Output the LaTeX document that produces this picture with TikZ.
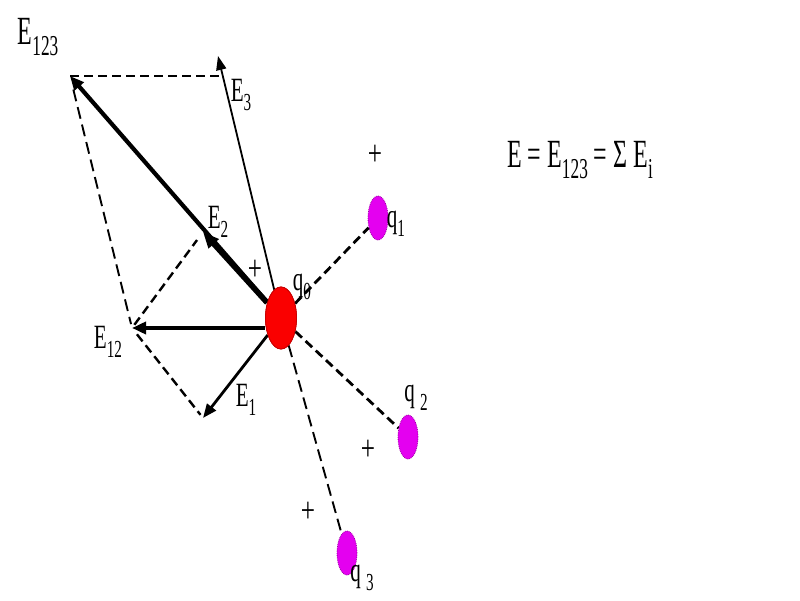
\documentclass[tikz,border=0pt]{standalone}
\usepackage{graphicx}
\usepackage{fontspec}
\setmainfont{Liberation Serif}
\usetikzlibrary{arrows.meta,shapes.geometric}
\newcommand{\sbx}[1]{\raisebox{-0.26em}{\scalebox{0.72}{#1}}}
\definecolor{qmag}{RGB}{228,0,240}
\definecolor{qred}{RGB}{250,0,0}
\begin{document}
\begin{tikzpicture}[x=1pt,y=1pt,
  lab/.style={font=\fontsize{34}{34}\selectfont, inner sep=0pt, transform shape, xscale=0.62},
  biglab/.style={font=\fontsize{40}{40}\selectfont, inner sep=0pt, transform shape, xscale=0.6},
  plus/.style={font=\fontsize{36}{36}\selectfont, inner sep=0pt, transform shape, xscale=0.7},
  charge/.style={ellipse, fill=qmag, draw=qmag!70!black, densely dotted, line width=0.8pt, minimum width=20pt, minimum height=44pt, inner sep=0pt},
  test/.style={ellipse, fill=qred, draw=qred!80!black, line width=0.8pt, minimum width=31pt, minimum height=62pt, inner sep=0pt},
  vec/.style={line width=4.2pt, -{Triangle[length=14pt,width=12pt]}},
  thinvec/.style={line width=1.8pt, -{Triangle[length=14pt,width=10pt]}},
  guide/.style={line width=2.4pt, dash pattern=on 9pt off 5pt},
  guidethin/.style={line width=1.9pt, dash pattern=on 12pt off 6pt},
  link/.style={line width=2.8pt, dash pattern=on 9pt off 5pt}
]
\useasboundingbox (0,0) rectangle (800,600);
\fill[white] (0,0) rectangle (800,600);

% charges
\node[charge] (q1) at (378,382) {};
\node[charge] (q2) at (408,163) {};
\node[charge] (q3) at (347,47) {};

% vector tips
\coordinate (e123) at (70,524);
\coordinate (e3) at (218,544);
\coordinate (e3b) at (222,524);
\coordinate (e2) at (203,368);
\coordinate (e12) at (132,272);
\coordinate (e1) at (203,182);

% test charge (placed to get border anchors)
\node[test] (q0) at (281,282) {};

% links to charges
\draw[link] (q0) -- (q1);
\draw[link] (q0) -- (q2);
\draw[guidethin] (q0) -- (q3);

% construction lines
\draw[link] (e123) -- (e3b);
\draw[guidethin, shorten <=14pt, shorten >=4pt] (e123) -- (e12);
\draw[guide, shorten <=4pt, shorten >=10pt] (e12) -- (e2);
\draw[guide, shorten <=8pt, shorten >=4pt] (e12) -- (e1);

% field vectors
\draw[thinvec] (q0) -- (e3);
\draw[vec] (q0) -- (e123);
\draw[line width=5.5pt, -{Triangle[length=16pt,width=13pt]}] (q0) -- (e2);
\draw[vec] (q0.west |- e12) -- (e12);
\draw[line width=2.8pt, -{Triangle[length=14pt,width=11pt]}] (q0) -- (e1);

% redraw test charge on top
\node[test] at (q0) {};

% labels
\node[biglab] (l123) at (38,563) {E\sbx{123}};
\node[lab] (l3) at (241,505) {E\sbx{3}};
\node[lab] (l2) at (218,378) {E\sbx{2}};
\node[lab] (l12) at (108,258) {E\sbx{12}};
\node[lab] (l1) at (246,200) {E\sbx{1}};
\node[lab] (lq0) at (302,313) {q\sbx{0}};
\node[lab] (lq1) at (396,376) {q\sbx{1}};
\node[lab] (lq2) at (416,202) {q \sbx{2}};
\node[lab] (lq3) at (362,22) {q \sbx{3}};

% plus signs
\node[plus] (p1) at (375,445) {+};
\node[plus] (p0) at (255,330) {+};
\node[plus] (p2) at (368,150) {+};
\node[plus] (p3) at (308,88) {+};

% equation
\node[biglab] (eq) at (580,440) {E = E\sbx{123} = Σ E\sbx{i}};
\end{tikzpicture}
\end{document}
